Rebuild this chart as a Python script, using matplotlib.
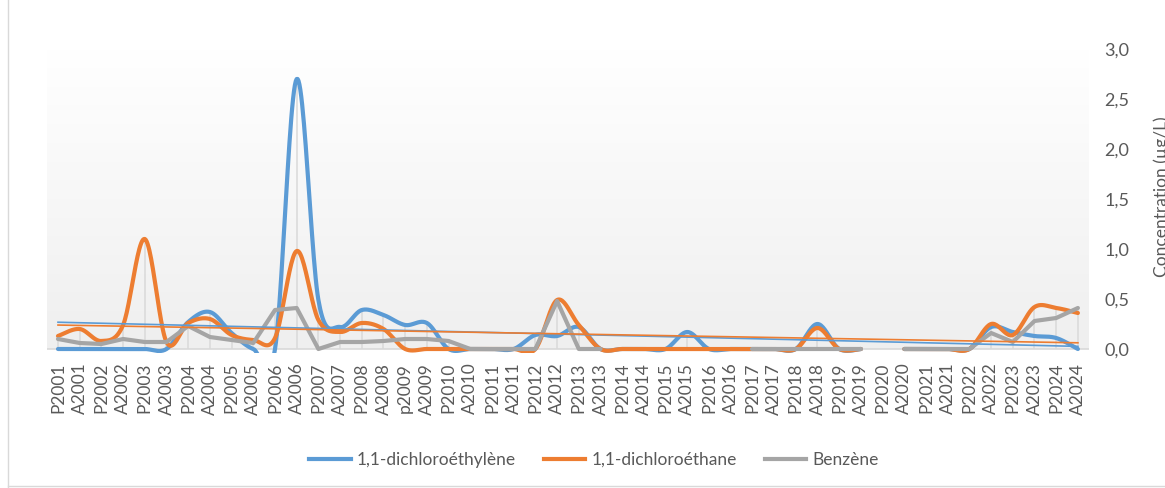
import numpy as np
import matplotlib
matplotlib.use("Agg")
import matplotlib.pyplot as plt
from matplotlib.lines import Line2D

nan = np.nan

categories = ["P2001", "A2001", "P2002", "A2002", "P2003", "A2003", "P2004", "A2004",
              "P2005", "A2005", "P2006", "A2006", "P2007", "A2007", "P2008", "A2008",
              "p2009", "A2009", "P2010", "A2010", "P2011", "A2011", "P2012", "A2012",
              "P2013", "A2013", "P2014", "A2014", "P2015", "A2015", "P2016", "A2016",
              "P2017", "A2017", "P2018", "A2018", "P2019", "A2019", "P2020", "A2020",
              "P2021", "A2021", "P2022", "A2022", "P2023", "A2023", "P2024", "A2024"]

dichloroethylene = [0, 0, 0, 0, 0, 0, 0.27, 0.37, 0.16, 0, 0, 2.70, 0.49, 0.22, 0.39, 0.34,
                    0.24, 0.26, 0, 0, 0, 0, 0.14, 0.13, 0.22, 0, 0, 0, 0, 0.17, 0, 0,
                    0, 0, 0, 0.25, 0, 0, nan, 0, 0, 0, 0, 0.22, 0.17, 0.13, 0.11, 0.0]

dichloroethane = [0.13, 0.20, 0.08, 0.24, 1.10, 0.07, 0.26, 0.30, 0.14, 0.09, 0.11, 0.98, 0.29, 0.17, 0.26, 0.20,
                  0, 0, 0, 0, 0, 0, 0, 0.49, 0.24, 0, 0, 0, 0, 0, 0, 0,
                  0, 0, 0, 0.21, 0, 0, nan, 0, 0, 0, 0, 0.25, 0.14, 0.42, 0.41, 0.36]

benzene = [0.10, 0.06, 0.05, 0.10, 0.07, 0.07, 0.23, 0.12, 0.09, 0.06, 0.39, 0.41, 0, 0.07, 0.07, 0.08,
           0.10, 0.10, 0.08, 0, 0, 0, 0, 0.48, 0, 0, nan, nan, nan, nan, nan, nan,
           0, 0, 0, 0, 0, 0, nan, 0, 0, 0, 0, 0.16, 0.07, 0.28, 0.31, 0.41]

series_names = ["1,1-dichloroéthylène", "1,1-dichloroéthane", "Benzène"]
colors = ["#5B9BD5", "#ED7D31", "#A5A5A5"]
y_ticks = [0.0, 0.5, 1.0, 1.5, 2.0, 2.5, 3.0]
y_label = "Concentration (µg/L)"

plt.rcParams['font.family'] = ['Lato', 'DejaVu Sans']
TXT = "#595959"

W, H = 1165, 488
fig = plt.figure(figsize=(W / 100, H / 100), dpi=100)
ax = fig.add_axes([47.15 / W, 1 - 353 / H, (1088.75 - 47.15) / W, (353 - 49) / H])
ax.set_facecolor("none")

n = len(categories)
x = np.arange(n, dtype=float)
ax.set_xlim(-0.5, n - 0.5)
ax.set_ylim(-0.04, 3.0)

# gradient background of plot area
grad = np.linspace(0, 1, 256).reshape(-1, 1)
top = np.array([1.0, 1.0, 1.0])
bot = np.array([0xEF, 0xEF, 0xEF]) / 255.0
img = top[None, None, :] * (1 - grad[:, :, None]) + bot[None, None, :] * grad[:, :, None]
ax.imshow(img, extent=(-0.5, n - 0.5, 0, 3.0), aspect="auto", origin="upper", zorder=0)


def segments(xs, ys):
    ys = np.asarray(ys, dtype=float)
    segs, cur = [], []
    for xi, yi in zip(xs, ys):
        if np.isnan(yi):
            if cur:
                segs.append(cur)
            cur = []
        else:
            cur.append((xi, yi))
    if cur:
        segs.append(cur)
    return segs


def smooth(seg, steps=24):
    p = np.array(seg)
    if len(p) < 2:
        return p[:, 0], p[:, 1]
    out = [p[0]]
    m = len(p)
    for i in range(m - 1):
        p0 = p[i - 1] if i > 0 else p[i]
        p1 = p[i]
        p2 = p[i + 1]
        p3 = p[i + 2] if i + 2 < m else p[i + 1]
        c1 = p1 + (p2 - p0) / 6.0
        c2 = p2 - (p3 - p1) / 6.0
        t = np.linspace(0, 1, steps + 1)[1:, None]
        pts = ((1 - t) ** 3) * p1 + 3 * ((1 - t) ** 2) * t * c1 + 3 * (1 - t) * t ** 2 * c2 + t ** 3 * p2
        out.extend(pts)
    out = np.array(out)
    return out[:, 0], out[:, 1]


all_series = [dichloroethylene, dichloroethane, benzene]
smoothed = [True, True, False]

# drop lines
stack = np.array(all_series, dtype=float)
with np.errstate(all="ignore"):
    mx = np.nanmax(stack, axis=0)
for xi, m in zip(x, mx):
    if np.isfinite(m) and m > 0:
        ax.vlines(xi, 0, m, color="#D9D9D9", lw=1.1, zorder=1)

# horizontal axis line
ax.axhline(0, color="#D9D9D9", lw=1.2, zorder=1)

handles = []
for k, (ys, col, sm) in enumerate(zip(all_series, colors, smoothed)):
    for seg in segments(x, ys):
        if sm:
            sx, sy = smooth(seg)
        else:
            arr = np.array(seg)
            sx, sy = arr[:, 0], arr[:, 1]
        ax.plot(sx, sy, color=col, lw=3.0, solid_capstyle="round",
                solid_joinstyle="round", zorder=3 + k)
    handles.append(Line2D([], [], color=col, lw=3.0))

# linear trendlines (computed from data)
for ys, col in zip(all_series[:2], colors[:2]):
    ys = np.asarray(ys, dtype=float)
    ok = ~np.isnan(ys)
    a, b = np.polyfit(x[ok] + 1, ys[ok], 1)
    ax.plot([x[0], x[-1]], [a * (x[0] + 1) + b, a * (x[-1] + 1) + b], color=col, lw=1.2, zorder=7)

for s in ax.spines.values():
    s.set_visible(False)

ax.yaxis.tick_right()
ax.set_yticks(y_ticks)
ax.set_yticklabels([f"{v:.1f}".replace(".", ",") for v in y_ticks])
ax.tick_params(axis="y", length=0, pad=11, labelsize=13, labelcolor=TXT)
ax.set_xticks(x)
ax.set_xticklabels(categories, rotation=90)
ax.tick_params(axis="x", length=0, pad=7, labelsize=12.5, labelcolor=TXT)

fig.text(1153 / W, 1 - 197 / H, y_label, rotation=90, ha="left", va="center",
         fontsize=12.5, color=TXT)

leg = fig.legend(handles, series_names, loc="center", bbox_to_anchor=(594 / W, 1 - 460 / H),
                 ncol=3, frameon=False, fontsize=12.5, handlelength=2.4, handletextpad=0.35,
                 columnspacing=1.6, labelcolor=TXT)

# chart frame
fig.add_artist(Line2D([8 / W, 8 / W], [0, 1], color="#D9D9D9", lw=1.0))
fig.add_artist(Line2D([8 / W, 1], [2 / H, 2 / H], color="#D9D9D9", lw=1.0))

fig.savefig("out.png", dpi=100)
